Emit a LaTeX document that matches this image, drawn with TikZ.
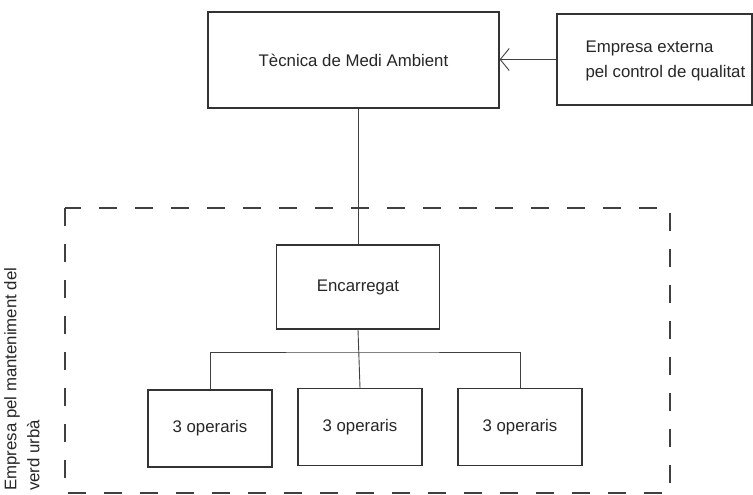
\documentclass[tikz,border=0pt]{standalone}
\usepackage{fontspec}
\setmainfont{Liberation Sans}
\usepackage{xcolor}
\usetikzlibrary{arrows.meta,positioning}

\begin{document}
\begin{tikzpicture}[x=1pt, y=-1pt,
    box/.style={draw=black!80, line width=1.3pt, rectangle, inner sep=0pt,
        font=\fontsize{16.8}{23}\selectfont, text=black!85},
    opbox/.style={box, minimum width=124pt, minimum height=77pt},
    label/.style={font=\fontsize{16.8}{25}\selectfont, text=black!85, inner sep=0pt},
    link/.style={draw=black!75, line width=0.9pt},
    empresa/.style={draw=black!75, line width=1.6pt, dash pattern=on 18pt off 18pt}]
\useasboundingbox (0,0) rectangle (753,495);

% direction
\node[box, minimum width=291pt, minimum height=96pt] (tecnica) at (353.5,60) {Tècnica de Medi Ambient};
\node[box, minimum width=195pt, minimum height=91pt] (qualitat) at (654.5,59.5) {};
\node[label, anchor=west, align=left] (qualitattext) at ([xshift=29pt, yshift=-1pt]qualitat.west) {Empresa externa\\pel control de qualitat};
\draw[link, -{Straight Barb[length=9pt, width=22pt]}] (qualitat.west) -- (qualitat.west -| tecnica.east);

% empresa de manteniment
\draw[empresa] (65,208) rectangle (670,493);
\node[label, rotate=90, anchor=north west, align=left, font=\fontsize{16.8}{23}\selectfont] (empresalabel) at (4,491) {Empresa pel manteniment del\\verd urbà};

\node[box, minimum width=163pt, minimum height=84pt] (encarregat) at (358,287) {Encarregat};
\draw[link] (encarregat.north) -- (encarregat.north |- tecnica.south);

\node[opbox] (op1) at (210,428.5) {3 operaris};
\node[opbox] (op2) at (360,427) {3 operaris};
\node[opbox] (op3) at (520,427) {3 operaris};

\coordinate (bus) at (360,352);
\draw[link] (encarregat.south) -- (op2.north);
\draw[link] (op1.north) |- (bus) -| (op3.north);
\end{tikzpicture}
\end{document}
